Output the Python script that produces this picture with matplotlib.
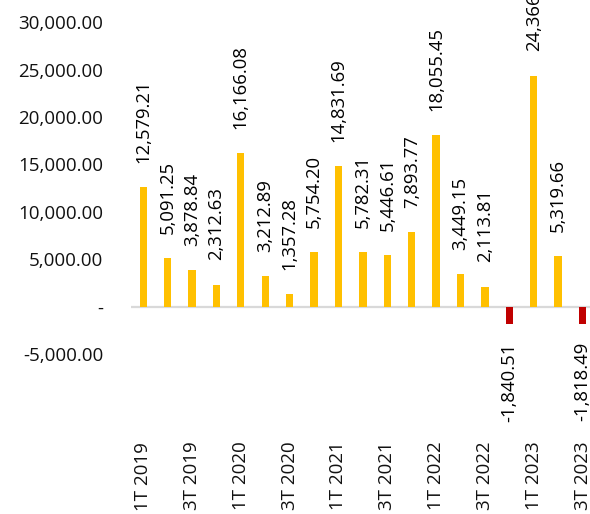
import matplotlib
matplotlib.use("Agg")
import matplotlib.pyplot as plt
from matplotlib.ticker import FuncFormatter

plt.rcParams['font.family'] = ['Open Sans', 'DejaVu Sans']

quarters = ["1T 2019", "2T 2019", "3T 2019", "4T 2019",
            "1T 2020", "2T 2020", "3T 2020", "4T 2020",
            "1T 2021", "2T 2021", "3T 2021", "4T 2021",
            "1T 2022", "2T 2022", "3T 2022", "4T 2022",
            "1T 2023", "2T 2023", "3T 2023"]
values = [12579.21, 5091.25, 3878.84, 2312.63,
          16166.08, 3212.89, 1357.28, 5754.20,
          14831.69, 5782.31, 5446.61, 7893.77,
          18055.45, 3449.15, 2113.81, -1840.51,
          24366.32, 5319.66, -1818.49]

pos_color = "#FFC000"
neg_color = "#C00000"

fig = plt.figure(figsize=(5.9, 5.14), dpi=100)
ax = fig.add_axes([0.222, 0.311, 0.786, 0.646])

x = list(range(len(quarters)))
colors = [pos_color if v >= 0 else neg_color for v in values]
ax.bar(x, values, width=0.3, color=colors, zorder=2)

# data labels, rotated, above positive bars and below negative ones
for i, v in enumerate(values):
    if v >= 0:
        ax.annotate(f"{v:,.2f}", (i, v), xytext=(0, 17.5), textcoords="offset points",
                    rotation=90, ha="center", va="bottom", fontsize=13.3, color="#000000")
    else:
        ax.annotate(f"{v:,.2f}", (i, v), xytext=(0, -13), textcoords="offset points",
                    rotation=90, ha="center", va="top", fontsize=13.3, color="#000000")

ax.axhline(0, color="#D9D9D9", lw=1.6, zorder=1)

ax.set_xlim(-0.5, len(quarters) - 0.5)
ax.set_ylim(-5000, 30000)
ax.set_yticks(range(-5000, 30001, 5000))
ax.yaxis.set_major_formatter(FuncFormatter(lambda v, p: "-" if v == 0 else f"{v:,.2f}"))
ax.set_xticks(x)
ax.set_xticklabels([q if i % 2 == 0 else "" for i, q in enumerate(quarters)], rotation=90, va="top")

ax.tick_params(axis="y", length=0, pad=20, labelsize=13.5, labelcolor="#111111")
ax.tick_params(axis="x", length=0, pad=63, labelsize=13.5, labelcolor="#111111")
for s in ax.spines.values():
    s.set_visible(False)

fig.savefig("out.png", dpi=100)
